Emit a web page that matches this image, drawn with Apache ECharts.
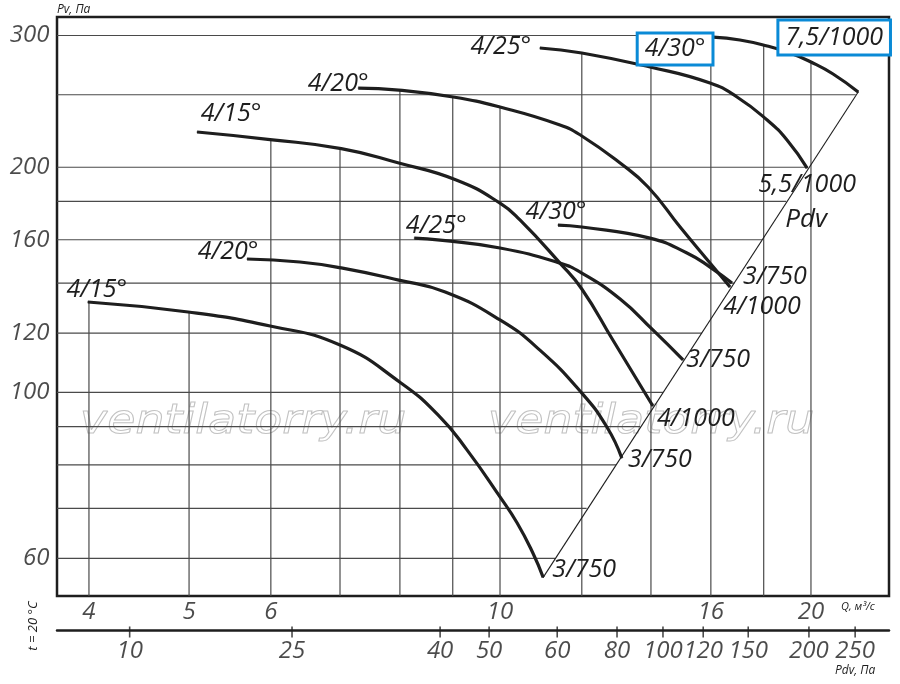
<!DOCTYPE html>
<html><head><meta charset="utf-8">
<script src="https://cdn.jsdelivr.net/npm/echarts@6/dist/echarts.min.js"></script>
<style>html,body{margin:0;padding:0;background:#fff}#c{width:900px;height:684px}</style>
</head><body><div id="c"></div><script>
// ---- axis ranges (log scales) ----
const Q_MIN = 3.725, Q_MAX = 23.8;     // Q, m3/s
const P_MIN = 53.44, P_MAX = 317.6;    // Pv, Pa

// ---- tick labels ----
const yTickValues = [300, 200, 160, 120, 100, 60];
const qTickValues = [4, 5, 6, 10, 16, 20];
const pdvTickLabels = ['10', '25', '40', '50', '60', '80', '100', '120', '150', '200', '250'];
const pdvTickQ = [4.38, 6.29, 8.75, 9.76, 11.36, 12.98, 14.38, 15.73, 17.39, 19.91, 22.07];

// ---- grid lines (drawn only below the curves / left of the Pdv line) ----
const gridQ    = [4, 5, 6, 7, 8, 9, 10, 12, 14, 16, 18, 20];
const gridQTop = [132.1, 128.5, 217.8, 211.8, 253.6, 248.3, 240.7, 284.3, 272.3, 298.5, 290.5, 276.5];
const gridP    = [300, 250, 200, 180, 160, 140, 120, 100, 90, 80, 70, 60];
const gridPEnd = [15.8, 22.10, 19.86, 18.93, 17.93, 16.86, 15.69, 14.38, 13.67, 12.95, 12.13, 11.31];

// ---- fan curves [Q, Pv] ----
const c1 = [[16.08,298.6],[17.07,295.9],[18.14,290.5],[19.09,284.3],[20.00,276.5],[21.01,266.5],[22.22,252.1]];
const c2 = [[10.93,288.7],[12.00,284.3],[13.97,272.3],[15.97,259.2],[16.96,248.3],[18.14,231.3],[18.96,217.5],[19.83,199.5]];
const c3 = [[7.29,255.2],[7.98,253.6],[9.01,248.3],[10.0,240.7],[11.43,227.8],[12.0,220.2],[13.07,202.6],[13.91,188.2],[14.94,166.4],[15.97,148.9],[16.70,138.3]];
const c4 = [[5.09,222.9],[5.99,217.8],[7.02,211.8],[7.98,202.6],[9.07,192.3],[10.0,179.1],[10.46,169.9],[11.43,148.9],[12.0,137.5],[12.86,117.5],[14.06,95.9]];
const c5 = [[11.38,167.4],[12.0,166.4],[13.97,160.8],[15.17,153.6],[15.97,147.1],[16.77,140.0]];
const c6 = [[8.26,160.8],[8.75,159.8],[10.0,156.0],[11.43,148.9],[12.0,144.4],[13.07,133.3],[14.06,121.2],[15.04,110.5]];
const c7 = [[5.69,150.8],[6.40,149.4],[7.02,146.7],[7.98,141.3],[8.85,136.2],[10.0,125.0],[10.93,113.9],[12.0,99.8],[12.69,89.9],[13.12,81.7]];
const c8 = [[3.99,132.1],[4.99,128.1],[5.99,122.7],[7.0,115.7],[8.0,103.2],[8.75,92.7],[9.29,83.8],[10.0,72.5],[10.39,66.9],[10.76,61.0],[11.01,56.6]];
const pdvLine = [[11.01,56.6],[22.22,252.1]];

const curveStartNames = ['4/30°','4/25°','4/20°','4/15°','4/30°','4/25°','4/20°','4/15°'];
const curveEndNames   = ['7,5/1000','5,5/1000','4/1000','4/1000','3/750','3/750','3/750','3/750'];

// ---- layout (label offsets, px) ----
const curves = [c1, c2, c3, c4, c5, c6, c7, c8];
const startOffsets = [[-38,12],[-39,-1],[-20,-4],[34,-18],[-2,-13],[22,-12],[-19,-7],[9,-12]];
const endOffsets   = [[-24,-54.5],[0,17],[32,20],[43,13],[43,-6],[35,0],[38,2],[41,-7]];
const boxedCurve = 0;

const font = "'Open Sans', 'DejaVu Sans', sans-serif";
const ink = '#1e1e1e';
const gridColor = '#4a4a4a';
const blue = '#0a8ad6';

function label(text, off, boxed, size) {
  const l = {show: true, position: 'inside', offset: off, formatter: text,
    color: ink, fontFamily: font, fontStyle: 'italic', fontSize: size || 25};
  if (boxed) Object.assign(l, {borderColor: blue, borderWidth: 3, backgroundColor: '#fff', padding: boxed});
  return l;
}

const series = [];
gridQ.forEach((q, i) => series.push({
  type: 'line', xAxisIndex: 0, yAxisIndex: 0, data: [[q, P_MIN], [q, gridQTop[i]]],
  symbol: 'none', silent: true, z: 1, lineStyle: {color: gridColor, width: 1.2}
}));
gridP.forEach((p, i) => series.push({
  type: 'line', xAxisIndex: 0, yAxisIndex: 0, data: [[Q_MIN, p], [gridPEnd[i], p]],
  symbol: 'none', silent: true, z: 1, lineStyle: {color: gridColor, width: 1.2}
}));
series.push({
  type: 'line', xAxisIndex: 0, yAxisIndex: 0, silent: true, z: 2,
  symbol: 'circle', symbolSize: 1, showSymbol: true, itemStyle: {color: ink},
  lineStyle: {color: ink, width: 1.1},
  data: pdvLine.map((p, i) => i === 1 ? {value: p, label: label('Pdv', [-52, 128], null, 26)} : p)
});
curves.forEach((c, k) => {
  const boxed = k === boxedCurve;
  series.push({
    type: 'line', xAxisIndex: 0, yAxisIndex: 0, smooth: 0.5, silent: true,
    z: boxed ? 6 : 4, symbol: 'circle', symbolSize: 1, showSymbol: true,
    itemStyle: {color: ink}, lineStyle: {color: ink, width: 3.2},
    data: c.map((p, i) => {
      if (i === 0) return {value: p, label: label(curveStartNames[k], startOffsets[k], boxed ? [2, 6, 2, 6] : null)};
      if (i === c.length - 1) return {value: p, label: label(curveEndNames[k], endOffsets[k], boxed ? [4, 6, 3, 6] : null)};
      return p;
    })
  });
});
// tick labels
const tickFont = {color: ink, fontFamily: font, fontStyle: 'italic', fontSize: 24};
series.push({
  type: 'scatter', xAxisIndex: 0, yAxisIndex: 0, silent: true, clip: false, symbolSize: 1,
  itemStyle: {color: 'transparent'},
  data: yTickValues.map(v => [Q_MIN, v]),
  label: Object.assign({show: true, position: 'left', distance: 7, formatter: p => p.value[1]}, tickFont)
});
series.push({
  type: 'scatter', xAxisIndex: 0, yAxisIndex: 0, silent: true, clip: false, symbolSize: 1,
  itemStyle: {color: 'transparent'},
  data: qTickValues.map(v => [v, P_MIN]),
  label: Object.assign({show: true, position: 'bottom', distance: 4, formatter: p => p.value[0]}, tickFont)
});
series.push({
  type: 'scatter', xAxisIndex: 1, yAxisIndex: 1, silent: true, clip: false,
  symbol: 'rect', symbolSize: [1.6, 11], symbolOffset: [0, 2], itemStyle: {color: ink},
  data: pdvTickQ.map((q, i) => ({value: [q, 0], name: pdvTickLabels[i]})),
  label: Object.assign({show: true, position: 'bottom', distance: 2, formatter: p => p.name}, tickFont)
});

const hidden = {axisLine: {show: false}, axisTick: {show: false}, axisLabel: {show: false}, splitLine: {show: false}};
const option = {
  animation: false,
  backgroundColor: '#fff',
  grid: [
    {left: 57, right: 11, top: 17, bottom: 88, show: true, borderColor: ink, borderWidth: 2.5, backgroundColor: 'transparent'},
    {left: 57, right: 11, top: 629, height: 1}
  ],
  xAxis: [
    Object.assign({type: 'log', gridIndex: 0, min: Q_MIN, max: Q_MAX}, hidden),
    Object.assign({type: 'log', gridIndex: 1, min: Q_MIN, max: Q_MAX}, hidden,
      {axisLine: {show: true, onZero: false, lineStyle: {color: ink, width: 2.5}}})
  ],
  yAxis: [
    Object.assign({type: 'log', gridIndex: 0, min: P_MIN, max: P_MAX}, hidden),
    Object.assign({type: 'value', gridIndex: 1, min: 0, max: 1}, hidden)
  ],
  graphic: [
    {type: 'text', silent: true, z: 0, scaleX: 1.12, x: 80, y: 422,
      style: {text: 'ventilatorry.ru', font: 'italic 41px "DejaVu Sans"', fill: 'rgba(0,0,0,0)', stroke: '#c2c2c2', lineWidth: 1, textVerticalAlign: 'middle'}},
    {type: 'text', silent: true, z: 0, scaleX: 1.12, x: 488, y: 422,
      style: {text: 'ventilatorry.ru', font: 'italic 41px "DejaVu Sans"', fill: 'rgba(0,0,0,0)', stroke: '#c2c2c2', lineWidth: 1, textVerticalAlign: 'middle'}},
    {type: 'text', silent: true, x: 57, y: 10,
      style: {text: 'Pv, Па', font: 'italic 12px "Open Sans"', fill: ink, textVerticalAlign: 'middle'}},
    {type: 'text', silent: true, x: 841, y: 607,
      style: {text: 'Q, м³/с', font: 'italic 11px "Open Sans"', fill: ink, textVerticalAlign: 'middle'}},
    {type: 'text', silent: true, x: 835, y: 671,
      style: {text: 'Pdv, Па', font: 'italic 12px "Open Sans"', fill: ink, textVerticalAlign: 'middle'}},
    {type: 'text', silent: true, x: 33, y: 626, rotation: Math.PI / 2,
      style: {text: 't = 20 °C', font: 'italic 13px "Open Sans"', fill: ink, textAlign: 'center', textVerticalAlign: 'middle'}}
  ],
  series: series
};
echarts.init(document.getElementById('c')).setOption(option);
</script></body></html>
